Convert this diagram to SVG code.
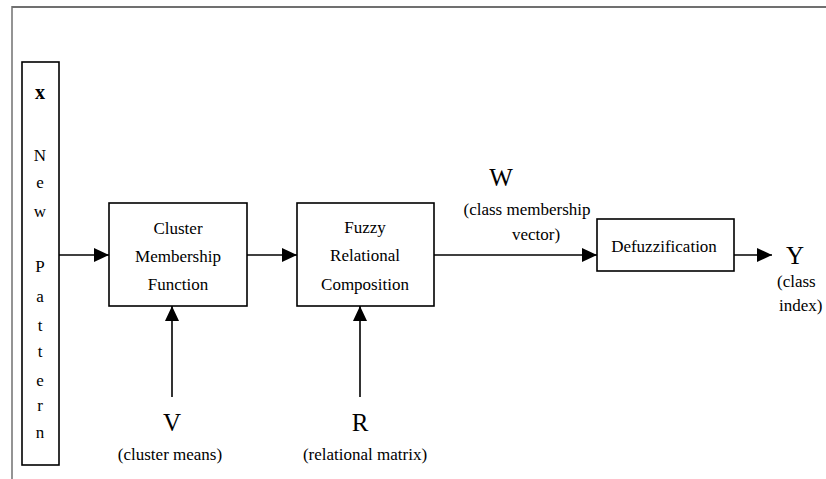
<svg xmlns="http://www.w3.org/2000/svg" width="826" height="479" viewBox="0 0 826 479" font-family="'Liberation Serif','Times New Roman',serif">
<style>
text{font-family:"Liberation Serif","Times New Roman",serif;fill:#000;text-anchor:middle}
.t{font-size:17px}
.big{font-size:25px}
.box{fill:#fff;stroke:#000;stroke-width:1.6}
.ln{stroke:#000;stroke-width:1.6;fill:none}
.frame{stroke:#707070;fill:none}
</style>
<defs>
<marker id="ah" markerUnits="userSpaceOnUse" markerWidth="16" markerHeight="14" refX="15" refY="7" orient="auto">
<path d="M0,0 L15,7 L0,14 Z" fill="#000"/>
</marker>
</defs>
<rect width="826" height="479" fill="#fff"/>
<g id="frame">
<line class="frame" x1="12" y1="7" x2="826" y2="7" stroke-width="2"/>
<line class="frame" x1="12" y1="6" x2="12" y2="479" stroke-width="1.5"/>
</g>
<g id="pattern">
<rect class="box" x="22" y="62" width="37" height="403"/>
<text x="40" y="99" style="font-size:20px;font-weight:bold">x</text>
<text class="t" x="40" y="161">N</text>
<text class="t" x="40" y="188">e</text>
<text class="t" x="40" y="217">w</text>
<text class="t" x="40" y="272">P</text>
<text class="t" x="40" y="302">a</text>
<text class="t" x="40" y="331">t</text>
<text class="t" x="40" y="357">t</text>
<text class="t" x="40" y="386">e</text>
<text class="t" x="40" y="411">r</text>
<text class="t" x="40" y="438">n</text>
</g>
<g id="cluster" font-family="'Liberation Serif',serif">
<rect class="box" x="109" y="203" width="138" height="103"/>
<text class="t" x="178" y="234" font-family="'Liberation Serif',serif">Cluster</text>
<text class="t" x="178" y="262" font-family="'Liberation Serif',serif">Membership</text>
<text class="t" x="178" y="290" font-family="'Liberation Serif',serif">Function</text>
</g>
<g id="fuzzy" font-family="'Liberation Serif',serif">
<rect class="box" x="297" y="203" width="137" height="103"/>
<text class="t" x="365" y="233" font-family="'Liberation Serif',serif">Fuzzy</text>
<text class="t" x="365" y="261" font-family="'Liberation Serif',serif">Relational</text>
<text class="t" x="365" y="290" font-family="'Liberation Serif',serif">Composition</text>
</g>
<g id="defuzz" font-family="'Liberation Serif',serif">
<rect class="box" x="597" y="219" width="137" height="52"/>
<text class="t" x="664" y="252" font-family="'Liberation Serif',serif">Defuzzification</text>
</g>
<g id="V">
<text class="big" x="172" y="431">V</text>
<text class="t" x="170" y="460">(cluster means)</text>
</g>
<g id="R">
<text class="big" x="360" y="431">R</text>
<text class="t" x="365" y="460">(relational matrix)</text>
</g>
<g id="W">
<text class="big" x="501" y="186">W</text>
<text class="t" x="527" y="215">(class membership</text>
<text class="t" x="536" y="240">vector)</text>
</g>
<g id="Y">
<text class="big" x="795" y="264">Y</text>
<text class="t" x="777" y="287" style="text-anchor:start">(class</text>
<text class="t" x="779" y="311" style="text-anchor:start">index)</text>
</g>
<g id="connectors">
<line class="ln" x1="59" y1="255" x2="109" y2="255" marker-end="url(#ah)"/>
<line class="ln" x1="247" y1="255" x2="297" y2="255" marker-end="url(#ah)"/>
<line class="ln" x1="434" y1="255" x2="597" y2="255" marker-end="url(#ah)"/>
<line class="ln" x1="734" y1="255" x2="772" y2="255" marker-end="url(#ah)"/>
<line class="ln" x1="172" y1="397" x2="172" y2="306" marker-end="url(#ah)"/>
<line class="ln" x1="360" y1="397" x2="360" y2="306" marker-end="url(#ah)"/>
</g>
</svg>
